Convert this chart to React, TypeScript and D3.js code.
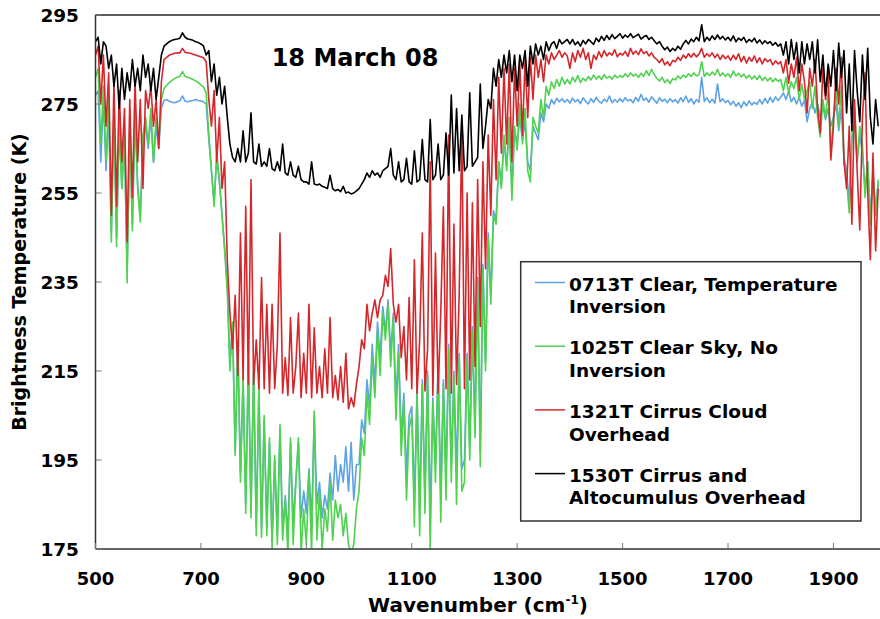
import React from "react";
import * as d3 from "d3";

// Wavenumber grid (cm-1), 5 cm-1 spacing
const WAVENUMBERS: number[] = d3.range(500, 1990, 5);

// 0713T Clear, Temperature Inversion (blue)
const BLUE_VALUES: number[] = [
  277, 278, 262, 276, 260, 274, 246, 272, 245, 270, 256, 267, 238, 268, 248, 272, 257, 250, 267, 270,
  265, 272, 262, 270, 265, 274, 275.8, 276, 275.6, 275.4, 275.3, 275.5, 275.7, 276.8, 275.6, 275.5, 275.7, 275.8, 276, 275.8,
  275.7, 275.5, 275, 267, 260, 253, 263, 257.5, 250, 243, 234, 217, 225, 197, 221, 192, 213, 185, 217, 184,
  215, 180, 211, 179.5, 204, 180, 199, 177, 195, 178, 202, 179, 187, 178, 199, 181, 190, 199, 182, 188,
  183, 193, 181, 205, 185, 190, 182, 187, 184, 192, 186, 196, 188, 194, 190, 198, 188, 199, 186, 194,
  194, 204, 201, 213, 207, 221, 212, 226, 218, 229.5, 224, 231, 219, 228, 208, 221, 200, 210, 192, 205,
  207, 186, 211, 184, 213, 188, 215, 183, 209, 194, 217, 188, 213, 192, 221, 194, 215, 192, 219, 193,
  195, 219, 198, 225, 203, 236, 197, 239, 217, 246, 232, 251, 249, 262, 257, 267, 261, 270, 256, 269,
  266, 272, 267, 271, 262, 260, 270, 268.5, 267, 273, 271, 275, 274, 276, 275, 276.3, 275.5, 276.2, 275.4, 276,
  275.2, 276.3, 275.5, 276, 275.1, 276.4, 275.6, 275, 276.2, 275.4, 276.5, 275.6, 275.2, 276.1, 275.5, 276.8, 275.3, 276, 275.4, 276.2,
  275.5, 276.4, 275.7, 276, 275.3, 276.5, 275.6, 277.2, 275.8, 276.3, 275.4, 276.6, 275.9, 275.2, 276.4, 275.6, 276.1, 275.3, 276.2, 275.5,
  276, 275.2, 276.4, 275.5, 276.8, 275.4, 276.2, 275, 276, 275.4, 281, 275.6, 276.4, 275.3, 276.1, 275.2, 279.5, 275.5, 276.2, 275.3,
  275.8, 274.8, 275.6, 274.5, 275.3, 274.2, 275.5, 274.6, 275.7, 274.8, 275.4, 274.9, 276, 275, 276.3, 275.2, 276.5, 275.4, 276.6, 275.8,
  276.5, 277.5, 276, 277.8, 275.5, 276.5, 275, 276.5, 274.5, 275.8, 271, 274, 275.5, 273, 275, 272, 274.5, 271.5, 274, 270,
  272, 275, 269, 274, 263, 260, 253, 267, 271, 262, 268, 264, 256, 262, 250, 259, 252, 257,
];

// 1025T Clear Sky, No Inversion (green)
const GREEN_VALUES: number[] = [
  281, 283, 266, 279, 262, 276, 244, 274, 243, 272, 256, 268, 234.8, 270, 246.5, 274, 256, 248.5, 268, 272,
  266, 274, 262, 272, 266, 276, 278.5, 279.2, 279.8, 280.3, 280.7, 281, 281.2, 282.3, 281.2, 281, 280.8, 280.5, 280.2, 279.8,
  279.3, 278.8, 277.5, 268, 260, 252, 264, 258, 250, 242, 233, 215, 226, 196, 222, 190, 214, 183, 218, 182,
  216, 178, 212, 177.6, 205, 178, 200, 175, 196, 176, 203, 177, 186, 174, 200, 176, 190, 200, 174, 184,
  176, 192, 174, 206, 177, 188, 175, 184, 179, 190, 177, 186, 182, 185, 178, 183, 176, 174, 176, 184,
  188, 200, 196, 210, 203, 218, 209, 224, 214, 228, 222, 230, 216, 227, 204, 219, 196, 208, 186, 202,
  205, 180, 210, 178, 212, 183, 214, 175, 208, 190, 216, 181, 212, 186, 220, 190, 214, 185, 218, 188,
  190, 218, 195, 224, 200, 235, 193.5, 238, 215, 245, 230, 250, 248, 262, 256, 268, 260, 272, 253.4, 270,
  264.7, 275, 266, 274, 260, 257.5, 272, 270, 268.5, 276, 272, 279, 277, 280, 278.5, 280.5, 279, 281, 279.5, 280.5,
  279.5, 281, 280, 281.4, 279.8, 280.8, 280.2, 281.2, 280.4, 281.5, 280.6, 281.3, 280.5, 281.6, 280.8, 281.2, 280.6, 281.5, 280.9, 281.4,
  281, 281.8, 281.1, 282, 281.3, 281.7, 281, 281.9, 281.2, 282.5, 281.4, 282.8, 281.6, 280.8, 280.2, 281, 279.8, 280.5, 279.6, 280.7,
  280.4, 281.3, 280.7, 281.5, 281, 281.8, 281.2, 282, 281.3, 281.6, 284.5, 281.2, 282, 281.4, 282.2, 281.5, 282.8, 281.3, 282, 281.2,
  281.8, 281, 282.4, 281.3, 281.9, 281.1, 281.7, 280.8, 281.5, 280.6, 281.3, 280.5, 281.4, 280.3, 281, 280.2, 280.9, 280, 280.7, 280.1,
  280.5, 278, 281, 277.5, 280, 278.5, 281, 276, 279.5, 276, 278, 280, 274, 279, 272, 267.6, 276, 272, 278, 264,
  272, 278, 270, 279, 262, 258, 250.5, 268, 274, 262, 270, 266, 254, 262, 248, 260, 250, 258,
];

// 1321T Cirrus Cloud Overhead (red)
const RED_VALUES: number[] = [
  286, 288, 275, 286, 270, 282, 250, 280, 252, 278, 262, 274, 244, 276, 254, 280, 262, 276, 256, 278,
  274, 279, 270, 276, 265, 280, 285, 285.5, 286, 286.2, 286.4, 286.5, 286.5, 287.5, 286.6, 286.5, 286.4, 286.2, 286, 285.8,
  285.6, 285.4, 284.5, 276, 270, 278, 262, 272, 256, 262, 240, 228, 220, 232, 214, 246, 213, 252, 212, 258,
  212, 222, 211, 236, 211, 230, 210, 230, 211, 221, 246, 210, 218, 209.5, 227, 210, 216, 228, 209, 219,
  210, 230, 209, 224.7, 210, 216, 209, 220, 210, 227, 209, 214, 208.5, 216, 208, 219, 206.5, 209, 207, 212,
  216, 222, 220, 230, 224, 228, 231, 227, 231, 232, 236.5, 234, 242.5, 230, 226, 230, 218, 225, 213, 231.5,
  211, 240, 210, 222, 246, 210.5, 220, 262, 209.5, 241.5, 210, 228, 251.9, 211, 268, 210, 248, 212, 232, 270,
  211, 255, 213, 252.8, 216, 258, 225, 262, 238, 268, 250, 276, 258, 281, 264, 283, 266, 284, 262, 283,
  270, 284, 268, 285, 272, 285.5, 276, 286, 281, 285, 280, 286, 284, 286.5, 285, 286, 287, 285.5, 286.5, 285.8,
  283, 286.5, 284.5, 287, 285.5, 287.5, 285, 286.5, 283, 286, 285, 286.8, 285.5, 287, 285.8, 286.5, 286, 287.2, 285.6, 286.4,
  286, 286.8, 285.7, 287.5, 286.2, 286.9, 286.1, 287.4, 286.3, 286.8, 285.8, 286.5, 285.5, 285, 284.3, 285.2, 283.8, 284.5, 283.6, 284.8,
  284.5, 285.5, 284.8, 286, 285.3, 286.3, 285.5, 286.4, 285.6, 286.2, 287.5, 285.5, 286.3, 285.7, 286.5, 285.4, 286.2, 285, 286, 285.2,
  285.8, 284.8, 286, 285, 286.3, 284.5, 285.7, 284.2, 285.5, 284.6, 285.8, 284.3, 285.4, 284, 285.2, 284.5, 285, 283.8, 284.7, 284,
  284.5, 282, 285, 279.7, 284, 281, 285.5, 278, 284, 280, 273, 283, 279, 285, 274, 268.5, 283, 276, 282, 262.4,
  270, 283, 275, 285.5, 262, 256, 270, 248, 276, 260, 246.7, 272, 282, 255, 240, 264, 242, 256,
];

// 1530T Cirrus and Altocumulus Overhead (black)
const BLACK_VALUES: number[] = [
  289, 290, 284, 289, 288, 283, 286, 279, 284, 274, 283, 276, 282, 278, 285, 279, 283, 278, 286, 281,
  284, 278, 283, 276, 281, 286, 288, 288.5, 289, 289.3, 289.5, 289.6, 289.8, 291, 290, 289.6, 289.5, 289.3, 289, 288.8,
  288.5, 288, 286, 287, 280, 284, 277, 281, 275, 279, 272, 266, 263, 262, 265, 262, 269, 262, 264, 273,
  262, 261.5, 266, 261, 262, 261, 265, 260.5, 260, 262, 260, 266, 259.5, 259, 262, 259, 258.5, 261, 258, 257.5,
  257.5, 257, 262, 257, 256.8, 257, 256.5, 256.3, 256, 259, 256, 255.5, 255.8, 255.3, 256.5, 255, 255.2, 254.8, 255, 255.5,
  256, 257, 258, 259.5, 258.5, 260, 259, 259.5, 258.5, 260, 260.5, 261, 265, 259, 258, 262, 257.5, 258, 262.8, 257.5,
  257, 264.5, 257.5, 258, 267, 258, 257.5, 271.5, 258, 259, 266, 258, 259, 268.5, 259, 277, 259.5, 274, 260, 272.5,
  260, 261, 277.5, 261, 262, 263, 279.5, 265, 270, 276, 274, 283, 279, 285, 281, 286, 282, 287, 280, 286,
  278, 286, 283, 287, 279, 288, 284, 288.5, 286, 288, 285, 289, 287, 288.5, 289, 287.5, 289.5, 288.5, 289, 289.5,
  288.5, 289.5, 288.3, 289, 288, 289.3, 288.5, 289.5, 289, 288.4, 289.8, 289, 290.2, 289.3, 290.4, 289.5, 290.6, 289.7, 290.2, 290.8,
  289.8, 290.5, 290, 290.8, 289.9, 290.3, 290.7, 289.6, 290.1, 290.4, 289.5, 290, 289.2, 288.5, 289, 288, 287.2, 287.8, 286.8, 287.5,
  287, 288, 287.3, 288.5, 289.3, 288.5, 289.6, 289, 290, 289.2, 292.8, 289, 290, 289.3, 290.3, 289.5, 290.5, 289.6, 290.2, 289.4,
  290, 289.2, 290.3, 289, 289.8, 289.3, 290, 288.8, 289.5, 289, 289.8, 288.7, 289.4, 288.5, 289.2, 288.6, 289, 288.2, 288.8, 288,
  288.5, 286, 289, 284, 289.5, 285, 288.8, 282, 289, 284, 288.5, 285, 289, 282, 289.4, 280, 286, 277, 284, 279,
  287, 278, 288.7, 281, 287, 273, 284, 269, 287, 278, 271, 286, 276, 287.5, 272, 266, 276, 270,
];

const SERIES_NAMES: string[][] = [
  ["0713T Clear, Temperature", "Inversion"],
  ["1025T Clear Sky, No", "Inversion"],
  ["1321T Cirrus Cloud", "Overhead"],
  ["1530T Cirrus and", "Altocumulus Overhead"],
];
const SERIES_COLORS: string[] = ["#5ea2e6", "#4fd24f", "#d4272b", "#000000"];
const SERIES_VALUES: number[][] = [BLUE_VALUES, GREEN_VALUES, RED_VALUES, BLACK_VALUES];

const X_TICKS: number[] = [500, 700, 900, 1100, 1300, 1500, 1700, 1900];
const Y_TICKS: number[] = [175, 195, 215, 235, 255, 275, 295];

const TITLE = "18 March 08";

const W = 880;
const H = 619;
const PLOT_LEFT = 95.5;
const PLOT_TOP = 15;
const PLOT_BOTTOM = 549;
const FONT = "'DejaVu Sans', Verdana, sans-serif";

export default function App() {
  const x = d3.scaleLinear().domain([500, 2000]).range([PLOT_LEFT, PLOT_LEFT + 1500 * 0.5271]);
  const y = d3.scaleLinear().domain([175, 295]).range([PLOT_BOTTOM, PLOT_TOP]);

  const line = d3
    .line<number>()
    .x((_, i) => x(WAVENUMBERS[i]))
    .y((v) => y(v));

  const legendX = 520.7;
  const legendY = 261.7;
  const rowStep = 63.7;

  return (
    <svg
      width={W}
      height={H}
      style={{ position: "absolute", left: 0, top: 0, background: "#fff" }}
      fontFamily={FONT}
    >
      <defs>
        <clipPath id="plotClip">
          <rect x={PLOT_LEFT} y={PLOT_TOP} width={W - PLOT_LEFT} height={PLOT_BOTTOM - PLOT_TOP} />
        </clipPath>
      </defs>
      <rect x={0} y={0} width={W} height={H} fill="#fff" />

      {/* series */}
      <g clipPath="url(#plotClip)">
        {SERIES_VALUES.map((vals, k) => (
          <path
            key={k}
            d={line(vals) || ""}
            fill="none"
            stroke={SERIES_COLORS[k]}
            strokeWidth={1.6}
            strokeLinejoin="round"
          />
        ))}
      </g>

      {/* frame */}
      <line x1={PLOT_LEFT} x2={W} y1={PLOT_TOP} y2={PLOT_TOP} stroke="#5a5a5a" strokeWidth={2} />
      <line x1={PLOT_LEFT} x2={PLOT_LEFT} y1={PLOT_TOP} y2={PLOT_BOTTOM} stroke="#333" strokeWidth={1.5} />
      <line x1={PLOT_LEFT} x2={W} y1={PLOT_BOTTOM} y2={PLOT_BOTTOM} stroke="#333" strokeWidth={1.5} />

      {/* y ticks */}
      {Y_TICKS.map((t) => (
        <g key={t}>
          <line x1={PLOT_LEFT} x2={PLOT_LEFT + 6} y1={y(t)} y2={y(t)} stroke="#777" strokeWidth={1} />
          <text
            x={79}
            y={y(t)}
            dy="0.36em"
            textAnchor="end"
            fontSize={18.5}
            fontWeight="bold"
            fill="#000"
          >
            {t}
          </text>
        </g>
      ))}

      {/* x ticks */}
      {X_TICKS.map((t) => (
        <g key={t}>
          <line x1={x(t)} x2={x(t)} y1={PLOT_BOTTOM} y2={PLOT_BOTTOM - 6} stroke="#777" strokeWidth={1} />
          <text x={x(t)} y={585} textAnchor="middle" fontSize={18} fontWeight="bold" fill="#000">
            {t}
          </text>
        </g>
      ))}

      {/* axis titles */}
      <text
        transform={`translate(26,282) rotate(-90)`}
        textAnchor="middle"
        fontSize={19}
        fontWeight="bold"
        fill="#000"
      >
        Brightness Temperature (K)
      </text>
      <text x={478} y={612} textAnchor="middle" fontSize={20} fontWeight="bold" fill="#000">
        Wavenumber (cm
        <tspan fontSize={12} dy={-8}>-1</tspan>
        <tspan dy={8}>)</tspan>
      </text>

      {/* title */}
      <text x={355} y={66} textAnchor="middle" fontSize={24} fontWeight="bold" fill="#000">
        {TITLE}
      </text>

      {/* legend */}
      <rect
        x={legendX}
        y={legendY}
        width={340.3}
        height={259.3}
        fill="#fff"
        stroke="#333"
        strokeWidth={1.5}
      />
      {SERIES_NAMES.map((lines, i) => {
        const ly = 282.5 + i * rowStep;
        return (
          <g key={i}>
            <line x1={535} x2={565} y1={ly} y2={ly} stroke={SERIES_COLORS[i]} strokeWidth={1.5} />
            {lines.map((s, j) => (
              <text
                key={j}
                x={569}
                y={ly + 8 + j * 22.7}
                fontSize={18.5}
                fontWeight="bold"
                fill="#000"
              >
                {s}
              </text>
            ))}
          </g>
        );
      })}
    </svg>
  );
}
